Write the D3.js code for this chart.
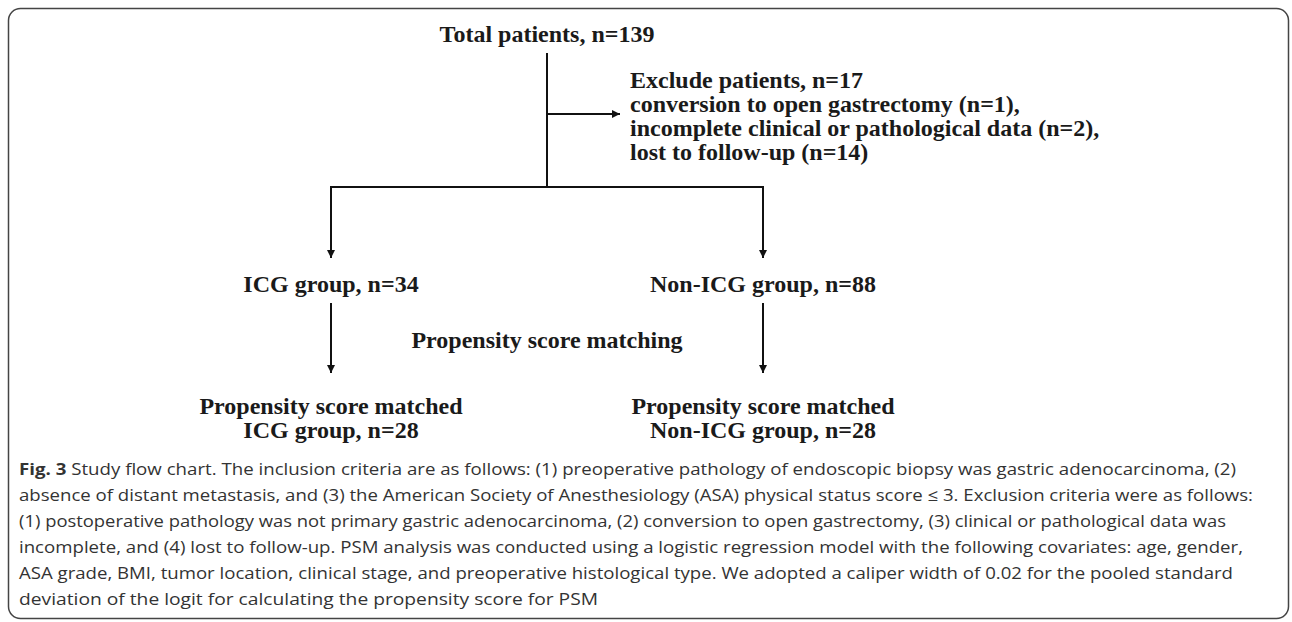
<!DOCTYPE html>
<html>
<head>
<meta charset="utf-8">
<script src="https://cdn.jsdelivr.net/npm/d3@7"></script>
<style>
  body { margin: 0; background: #fff; }
  .box text { font-family: "Liberation Serif", "Times New Roman", serif; font-weight: bold; font-size: 24px; fill: #1a1a1a; }
  .caption text { font-family: "Open Sans", sans-serif; font-size: 16.5px; fill: #333; }
</style>
</head>
<body>
<div class="chart"></div>
<script>
// values
var totalPatients = 139;
var excludedTotal = 17;
var excludeReasons = ["conversion to open gastrectomy", "incomplete clinical or pathological data", "lost to follow-up"];
var excludeCounts = [1, 2, 14];
var groups = ["ICG", "Non-ICG"];
var groupCounts = [34, 88];
var matchedCounts = [28, 28];

var captionLines = [
  "Study flow chart. The inclusion criteria are as follows: (1) preoperative pathology of endoscopic biopsy was gastric adenocarcinoma, (2)",
  "absence of distant metastasis, and (3) the American Society of Anesthesiology (ASA) physical status score \u2264 3. Exclusion criteria were as follows:",
  "(1) postoperative pathology was not primary gastric adenocarcinoma, (2) conversion to open gastrectomy, (3) clinical or pathological data was",
  "incomplete, and (4) lost to follow-up. PSM analysis was conducted using a logistic regression model with the following covariates: age, gender,",
  "ASA grade, BMI, tumor location, clinical stage, and preoperative histological type. We adopted a caliper width of 0.02 for the pooled standard",
  "deviation of the logit for calculating the propensity score for PSM"
];
var captionWidths = [1217, 1234, 1207, 1224, 1214, 579];

var width = 1292, height = 622;

var svg = d3.select(".chart")
  .append("svg")
  .attr("width", width)
  .attr("height", height);

svg.append("defs").append("marker")
  .attr("id", "head")
  .attr("viewBox", "0 0 10 10")
  .attr("refX", 10).attr("refY", 5)
  .attr("markerWidth", 4.2).attr("markerHeight", 4)
  .attr("markerUnits", "strokeWidth")
  .attr("orient", "auto")
  .append("path")
  .attr("d", "M0,0L10,5L0,10z")
  .attr("fill", "#111");

// outer frame
svg.append("rect")
  .attr("x", 8.5).attr("y", 8.5)
  .attr("width", 1280).attr("height", 610)
  .attr("rx", 12)
  .attr("fill", "none")
  .attr("stroke", "#444")
  .attr("stroke-width", 1.5);

// columns: left group, trunk, right group
var xScale = d3.scalePoint()
  .domain(["ICG", "trunk", "Non-ICG"])
  .range([331, 763]);

// rows of the chart
var yScale = d3.scaleOrdinal()
  .domain(["title", "trunkTop", "branch", "exclude", "split", "groupArrow", "group", "matchArrowTop", "matchArrow", "psm", "matched"])
  .range([42, 53, 114, 88, 187, 258, 292, 303, 373, 348, 414]);

var box = svg.append("g").classed("box", true);
var tx = xScale("trunk");

function label(x, y, str, anchor) {
  return box.append("text")
    .attr("x", x).attr("y", y)
    .attr("text-anchor", anchor || "middle")
    .text(str);
}

function line(x1, y1, x2, y2, arrow) {
  var l = box.append("line")
    .attr("x1", x1).attr("y1", y1)
    .attr("x2", x2).attr("y2", y2)
    .attr("stroke", "#111")
    .attr("stroke-width", 2);
  if (arrow) l.attr("marker-end", "url(#head)");
}

label(tx, yScale("title"), "Total patients, n=" + totalPatients);

line(tx, yScale("trunkTop"), tx, yScale("split") + 1);
line(tx, yScale("branch"), 620, yScale("branch"), true);
line(xScale("ICG"), yScale("split"), xScale("Non-ICG"), yScale("split"));

var excludeText = ["Exclude patients, n=" + excludedTotal].concat(
  excludeReasons.map(function (r, i) {
    return r + " (n=" + excludeCounts[i] + ")" + (i < excludeReasons.length - 1 ? "," : "");
  }));

excludeText.forEach(function (d, i) {
  label(630, yScale("exclude") + i * 24, d, "start");
});

groups.forEach(function (g, i) {
  var gx = xScale(g);
  line(gx, yScale("split") - 1, gx, yScale("groupArrow"), true);
  label(gx, yScale("group"), g + " group, n=" + groupCounts[i]);
  line(gx, yScale("matchArrowTop"), gx, yScale("matchArrow"), true);
  label(gx, yScale("matched"), "Propensity score matched");
  label(gx, yScale("matched") + 24, g + " group, n=" + matchedCounts[i]);
});

label(tx, yScale("psm"), "Propensity score matching");

// caption
var cap = svg.append("g").classed("caption", true);
cap.selectAll("text")
  .data(captionLines)
  .enter().append("text")
  .attr("x", 19)
  .attr("y", function (d, i) { return 475 + i * 26; })
  .attr("textLength", function (d, i) { return captionWidths[i]; })
  .attr("lengthAdjust", "spacingAndGlyphs")
  .each(function (d, i) {
    var el = d3.select(this);
    if (i === 0) {
      el.append("tspan").style("font-weight", "bold").text("Fig. 3");
      el.append("tspan").text(" " + d);
    } else {
      el.text(d);
    }
  });
</script>
</body>
</html>
